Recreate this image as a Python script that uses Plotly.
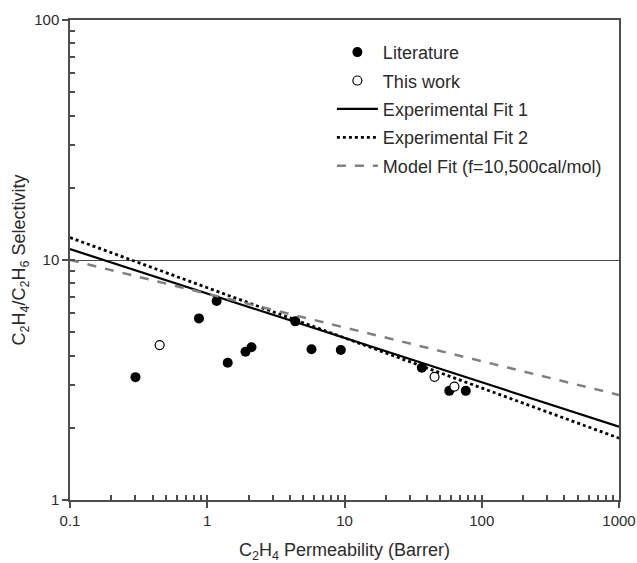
import plotly.graph_objects as go

# Literature data
lit_x = [0.30, 0.87, 1.17, 1.41, 1.90, 2.10, 4.38, 5.75, 9.4, 36.6, 58.0, 76.5]
lit_y = [3.25, 5.71, 6.75, 3.73, 4.15, 4.33, 5.55, 4.25, 4.22, 3.56, 2.85, 2.85]
# This work
tw_x = [0.45, 45.3, 63.2]
tw_y = [4.42, 3.26, 2.97]
# Fit lines (endpoints)
fit_x = [0.1, 1000]
fit1_y = [11.1, 2.02]
fit2_y = [12.4, 1.81]
model_y = [10.0, 2.74]

x_decades = [0.1, 1, 10, 100, 1000]
x_labels = ["0.1", "1", "10", "100", "1000"]
y_decades = [1, 10, 100]
y_labels = ["1", "10", "100"]


def all_ticks(decades):
    out = []
    for d in decades[:-1]:
        out += [k * d for k in range(1, 10)]
    return out + [decades[-1]]


FONT = "Liberation Sans, Arial, sans-serif"
TXT = "#2b2b2b"
AX = "#4d4d4d"

fig = go.Figure()
fig.add_trace(go.Scatter(x=lit_x, y=lit_y, mode="markers", name="Literature", legendgroup="a",
                         marker=dict(color="black", size=10, line=dict(width=0))))
fig.add_trace(go.Scatter(x=tw_x, y=tw_y, mode="markers", name="This work", legendgroup="b",
                         marker=dict(color="white", size=9, line=dict(color="black", width=1.2))))
fig.add_trace(go.Scatter(x=fit_x, y=fit1_y, mode="lines", name="Experimental Fit 1", legendgroup="c",
                         line=dict(color="black", width=2.2)))
fig.add_trace(go.Scatter(x=fit_x, y=fit2_y, mode="lines", name="Experimental Fit 2", legendgroup="d",
                         line=dict(color="black", width=2.8, dash="dot")))
fig.add_trace(go.Scatter(x=fit_x, y=model_y, mode="lines", name="Model Fit (f=10,500cal/mol)",
                         legendgroup="e",
                         line=dict(color="#808080", width=2.5, dash="dash")))
# invisible helper trace so the overlay (inside minor-tick) axes are drawn
fig.add_trace(go.Scatter(x=fit_x, y=model_y, mode="lines", xaxis="x2", yaxis="y2",
                         line=dict(width=0, color="rgba(0,0,0,0)"), showlegend=False,
                         hoverinfo="skip"))

main_common = dict(
    type="log", automargin=False, zeroline=False,
    showline=True, linecolor=AX, linewidth=1.5, mirror=True,
    ticks="outside", ticklen=6, tickcolor=AX, tickwidth=1.6,
    tickmode="array", tickfont=dict(size=15, color=TXT),
)
minor_common = dict(
    type="log", automargin=False, zeroline=False, showgrid=False,
    showline=False, showticklabels=False,
    ticks="inside", ticklen=5, tickcolor=AX, tickwidth=1.5, tickmode="array",
)

fig.update_layout(
    width=637, height=563,
    margin=dict(l=70, r=18, t=20, b=63),
    paper_bgcolor="white", plot_bgcolor="white",
    font=dict(family=FONT, size=15, color=TXT),
    showlegend=True,
    legend=dict(x=0.477, y=0.971, xanchor="left", yanchor="top",
                bgcolor="rgba(0,0,0,0)", font=dict(size=18, color=TXT),
                tracegroupgap=2, itemwidth=41),
    xaxis=dict(main_common, range=[-1, 3], showgrid=False,
               tickvals=x_decades, ticktext=x_labels,
               title=dict(text="C<sub>2</sub>H<sub>4</sub> Permeability (Barrer)",
                          font=dict(size=18, color=TXT), standoff=19)),
    yaxis=dict(main_common, range=[0, 2], showgrid=True, gridcolor=AX, gridwidth=1,
               tickvals=y_decades, ticktext=y_labels,
               title=dict(text="C<sub>2</sub>H<sub>4</sub>/C<sub>2</sub>H<sub>6</sub> Selectivity",
                          font=dict(size=18, color=TXT), standoff=4)),
    xaxis2=dict(minor_common, overlaying="x", anchor="y", side="bottom", range=[-1, 3],
                tickvals=all_ticks(x_decades)),
    yaxis2=dict(minor_common, overlaying="y", anchor="x", side="left", range=[0, 2],
                tickvals=all_ticks(y_decades)),
)

fig.write_html("out.html")
